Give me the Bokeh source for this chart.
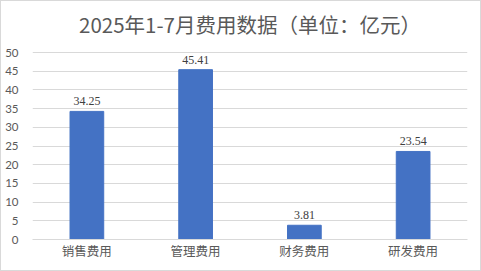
from bokeh.plotting import figure
from bokeh.models import ColumnDataSource, FixedTicker, Range1d, LabelSet, Label
from bokeh.embed import file_html
from bokeh.resources import INLINE

title_text = "2025年1-7月费用数据（单位：亿元）"
categories = ["销售费用", "管理费用", "财务费用", "研发费用"]
values = [34.25, 45.41, 3.81, 23.54]
labels = ["34.25", "45.41", "3.81", "23.54"]
y_ticks = [0, 5, 10, 15, 20, 25, 30, 35, 40, 45, 50]

FONT = "Noto Sans CJK SC"
NUM_FONT = "Lato"

W, H = 481, 271
TOP, BOTTOM = 4, 33
AXIS_TOP_PX = 51          # canvas y of the 50 gridline
frame_h = H - TOP - BOTTOM
y_end = 50 * frame_h / (H - BOTTOM - AXIS_TOP_PX)

src = ColumnDataSource(dict(cat=categories, val=values, lab=labels))

p = figure(x_range=categories, y_range=Range1d(0, y_end), width=W, height=H,
           output_backend="svg", toolbar_location=None,
           min_border_left=31, min_border_right=15, min_border_top=TOP,
           min_border_bottom=BOTTOM)

p.vbar(x="cat", top="val", width=0.31, source=src, color="#4472C4")

ls = LabelSet(x="cat", y="val", text="lab", source=src, text_align="center",
              text_baseline="bottom", y_offset=6, text_font_size="12px",
              text_color="#404040", text_font=NUM_FONT)
p.add_layout(ls)

title = Label(x=2.0, y=50, y_offset=29, text=title_text, text_align="center",
              text_baseline="middle", text_font=FONT, text_font_size="20.5px",
              text_color="#595959")
p.add_layout(title)

p.yaxis.ticker = FixedTicker(ticks=y_ticks)
p.yaxis.axis_line_color = None
p.yaxis.major_tick_line_color = None
p.yaxis.minor_tick_line_color = None
p.yaxis.major_label_text_font = NUM_FONT
p.yaxis.major_label_text_font_size = "11.5px"
p.yaxis.major_label_text_color = "#595959"
p.yaxis.major_label_standoff = 8

p.xaxis.axis_line_color = "#d9d9d9"
p.xaxis.major_tick_line_color = None
p.xaxis.minor_tick_line_color = None
p.xaxis.major_label_text_font = FONT
p.xaxis.major_label_text_font_size = "12.5px"
p.xaxis.major_label_text_color = "#595959"
p.xaxis.major_label_standoff = -5

p.xgrid.grid_line_color = None
p.ygrid.grid_line_color = "#d9d9d9"
p.ygrid.ticker = FixedTicker(ticks=y_ticks)
p.outline_line_color = None
p.x_range.range_padding = 0
p.styles = {"border": "1px solid #d9d9d9", "box-sizing": "border-box"}

open("out.html", "w").write(file_html(p, INLINE))
